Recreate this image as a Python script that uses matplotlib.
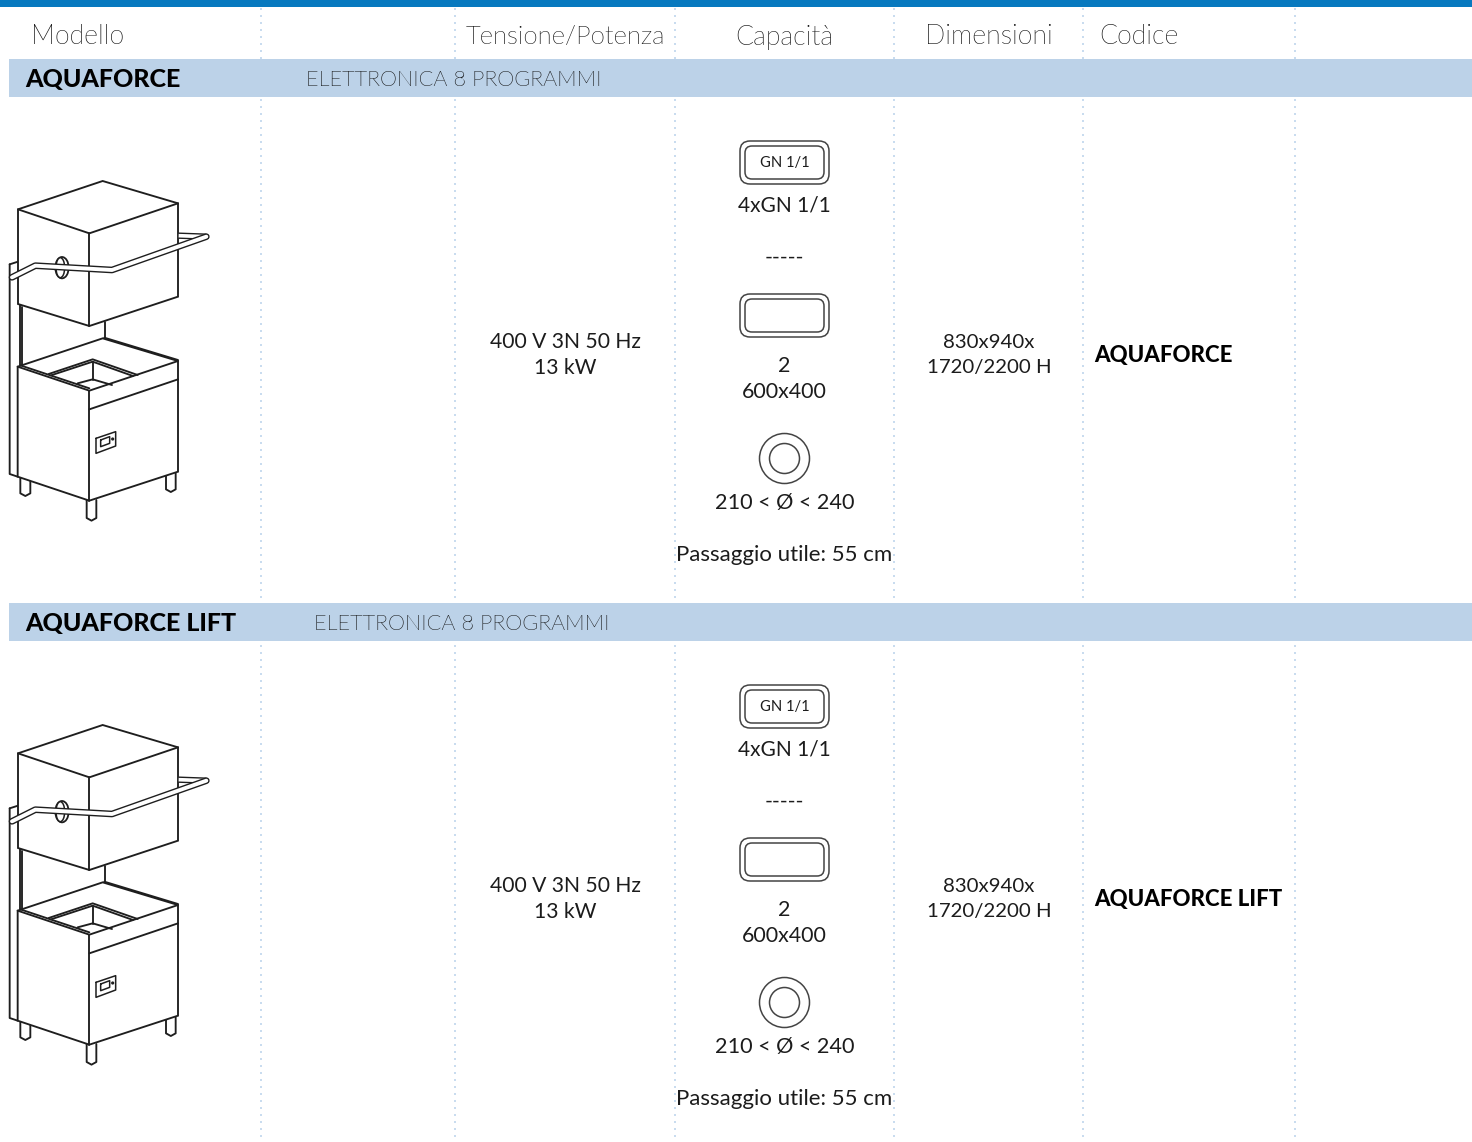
import matplotlib
matplotlib.use("Agg")
import matplotlib.pyplot as plt
from matplotlib import font_manager as fm
from matplotlib.patches import Rectangle, FancyBboxPatch, Circle, Ellipse, Polygon

plt.rcParams['font.family'] = ['Lato', 'DejaVu Sans']

W, H = 1472, 1142
headers = ["Modello", "Tensione/Potenza", "Capacità", "Dimensioni", "Codice"]
header_sizes = [19.2, 18.5, 19.2, 19.2, 19.2]
models = ["AQUAFORCE", "AQUAFORCE LIFT"]
control = "ELETTRONICA 8 PROGRAMMI"
power = "400 V 3N 50 Hz\n13 kW"
tray_label = "GN 1/1"
capacity_gn = "4xGN 1/1"
separator = "-----"
capacity_tray = "2\n600x400"
capacity_plate = "210 < Ø < 240"
passage = "Passaggio utile: 55 cm"
dims = "830x940x\n1720/2200 H"

column_lines = [261, 455, 675, 894, 1083, 1295]
row_offsets = [0, 544]

BLUE = "#0779bf"; BAND = "#bcd2e8"; DOT = "#bfd5ec"; INK = "#1c1c1c"; LINE = "#1e1e1e"

# a true Light cut: asking by weight alone lands on the Hairline face
light_files = [f.fname for f in fm.fontManager.ttflist
               if f.name.startswith("Lato") and f.fname.endswith("Light.ttf")
               and "Hairline" not in f.fname and "Thin" not in f.fname]
LIGHT = {"fontproperties": fm.FontProperties(fname=light_files[0])} if light_files else {}

fig = plt.figure(figsize=(W/100, H/100), dpi=100)
ax = fig.add_axes([0, 0, 1, 1])
ax.set_xlim(0, W); ax.set_ylim(H, 0); ax.axis("off")

ax.add_patch(Rectangle((0, 0), W, 7, fc=BLUE, ec="none", zorder=5))
for x in column_lines:
    ax.plot([x, x], [8, H + 4], color=DOT, lw=1.2, ls=(0, (1.2, 3.0)), zorder=1)

header_x = [78, 565, 784, 989, 1139]
for x, t, s in zip(header_x, headers, header_sizes):
    tx = ax.text(x, 37, t, ha="center", va="center", color="#111111", zorder=6, **LIGHT)
    tx.set_fontsize(s)


def lines(segs, dy, lw=1.35, z=3):
    for s in segs:
        ax.plot([(p[0] + 1)/3 for p in s], [170 + dy + p[1]/3 for p in s],
                color=LINE, lw=lw, zorder=z, solid_capstyle="round", solid_joinstyle="round")


def machine(dy):
    P = lambda pts: [((p[0] + 1)/3, 170 + dy + p[1]/3) for p in pts]
    # upright and guides
    lines([[(28, 283), (28, 912), (52, 920)], [(28, 283), (53, 275)],
           [(60, 405), (60, 585)], [(65, 410), (65, 585)], [(315, 455), (315, 505)]], dy)
    # hood
    ax.add_patch(Polygon(P([(53, 118), (307, 33), (533, 100), (533, 380), (267, 468), (53, 402)]),
                         fc="white", ec=LINE, lw=1.35, zorder=3))
    lines([[(53, 118), (267, 190), (533, 100)], [(267, 190), (267, 468)]], dy, z=3.1)
    # rear handle stub
    hx, hy = zip(*P([(535, 197), (618, 200)]))
    ax.plot(hx, hy, color=LINE, lw=4.6, zorder=3.2, solid_capstyle="butt")
    ax.plot(hx, hy, color="white", lw=2.6, zorder=3.3, solid_capstyle="butt")
    # round hinge
    ax.add_patch(Ellipse(P([(185, 293)])[0], 40/3, 64/3, fc="white", ec=LINE, lw=1.3, zorder=3.4))
    ax.add_patch(Ellipse(P([(180, 293)])[0], 26/3, 60/3, fc="white", ec=LINE, lw=1.1, zorder=3.5))
    # handle
    hx, hy = zip(*P([(35, 322), (105, 287), (335, 300), (618, 200)]))
    ax.plot(hx, hy, color=LINE, lw=4.8, zorder=3.6, solid_capstyle="round", solid_joinstyle="round")
    ax.plot(hx, hy, color="white", lw=2.8, zorder=3.7, solid_capstyle="round", solid_joinstyle="round")
    # legs
    for a, b, t, base in [(60, 90, 925, 978), (497, 526, 910, 966), (259, 288, 990, 1052)]:
        lines([[(a, t), (a, base - 8), ((a + b)/2, base), (b, base - 8), (b, t)]], dy)
    # cabinet
    ax.add_patch(Polygon(P([(52, 590), (307, 505), (533, 573), (533, 905), (267, 992), (52, 920)]),
                         fc="white", ec=LINE, lw=1.35, zorder=3))
    lines([[(52, 590), (267, 662), (533, 573)], [(267, 662), (267, 992)], [(267, 718), (533, 628)],
           [(60, 586), (267, 655)], [(312, 503), (533, 570)],
           [(145, 612), (277, 568), (412, 615)], [(152, 616), (277, 575), (398, 618)],
           [(277, 575), (277, 630)], [(232, 640), (277, 628), (335, 645)]], dy, z=3.1)
    # control panel
    lines([[(287, 805), (346, 785), (346, 828), (287, 850), (287, 805)],
           [(301, 810), (328, 800), (328, 820), (301, 830), (301, 810)]], dy, lw=1.1)
    ax.add_patch(Circle(P([(337, 807)])[0], 1.6, fc=LINE, ec="none", zorder=3.2))


def rrect(x0, y0, x1, y1, r, lw=1.1, color="#444444"):
    ax.add_patch(FancyBboxPatch((x0 + r, y0 + r), x1 - x0 - 2*r, y1 - y0 - 2*r,
                                boxstyle=f"round,pad={r},rounding_size={r}",
                                fc="none", ec=color, lw=lw, zorder=3))


band_label_x = [306, 314]
for i, dy in enumerate(row_offsets):
    ax.add_patch(Rectangle((9, 59 + dy), W - 9, 38, fc=BAND, ec="none", zorder=2))
    ax.text(25, 79 + dy, models[i], ha="left", va="center", size=18, weight="black", color="#000000", zorder=6)
    tx = ax.text(band_label_x[i], 80 + dy, control, ha="left", va="center", color="#111111", zorder=6, **LIGHT)
    tx.set_fontsize(15.7)
    machine(dy)
    ax.text(565, 355 + dy, power, ha="center", va="center", size=15.2, color=INK, zorder=6, linespacing=1.42)
    rrect(740, 141 + dy, 829, 184 + dy, 10)
    rrect(745, 146 + dy, 824, 179 + dy, 7)
    ax.text(784.5, 163 + dy, tray_label, ha="center", va="center", size=10.6, color=INK, zorder=6)
    ax.text(784, 205 + dy, capacity_gn, ha="center", va="center", size=15, color=INK, zorder=6)
    ax.text(784.5, 258 + dy, separator, ha="center", va="center", size=15.2, color=INK, zorder=6)
    rrect(740, 294 + dy, 829, 337 + dy, 10)
    rrect(745, 299 + dy, 824, 332 + dy, 7)
    ax.text(784.5, 379 + dy, capacity_tray, ha="center", va="center", size=15.4, color=INK, zorder=6, linespacing=1.42)
    ax.add_patch(Circle((784.5, 458.5 + dy), 25, fc="none", ec="#444444", lw=1.1, zorder=3))
    ax.add_patch(Circle((784.5, 458.5 + dy), 15, fc="none", ec="#444444", lw=1.1, zorder=3))
    ax.text(784.5, 503 + dy, capacity_plate, ha="center", va="center", size=15.6, color=INK, zorder=6)
    ax.text(784.5, 555 + dy, passage, ha="center", va="center", size=16, color=INK, zorder=6)
    ax.text(989, 355 + dy, dims, ha="center", va="center", size=14.7, color=INK, zorder=6, linespacing=1.6)
    ax.text(1094, 355.5 + dy, models[i], ha="left", va="center", size=16, weight="black", color="#000000", zorder=6)

fig.savefig("out.png", dpi=100)
